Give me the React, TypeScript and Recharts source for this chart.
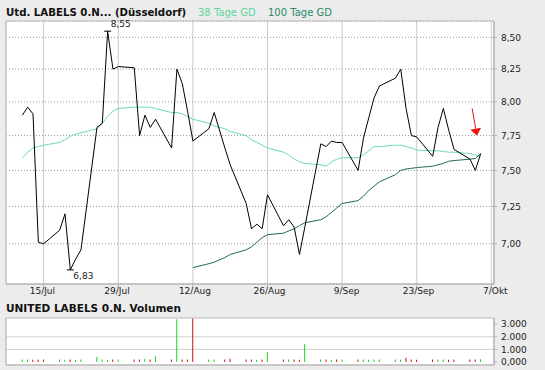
import {
  Bar,
  CartesianGrid,
  Cell,
  ComposedChart,
  Line,
  ReferenceArea,
  ReferenceDot,
  ReferenceLine,
  XAxis,
  YAxis,
} from "recharts";

// trading days (17 Aug without turnover)
const dates = [
  "2011-07-11", "2011-07-12", "2011-07-13", "2011-07-14", "2011-07-15",
  "2011-07-18", "2011-07-19", "2011-07-20", "2011-07-21", "2011-07-22",
  "2011-07-25", "2011-07-26", "2011-07-27", "2011-07-28", "2011-07-29",
  "2011-08-01", "2011-08-02", "2011-08-03", "2011-08-04", "2011-08-05",
  "2011-08-08", "2011-08-09", "2011-08-10", "2011-08-11", "2011-08-12",
  "2011-08-15", "2011-08-16", "2011-08-18", "2011-08-19",
  "2011-08-22", "2011-08-23", "2011-08-24", "2011-08-25", "2011-08-26",
  "2011-08-29", "2011-08-30", "2011-08-31", "2011-09-01", "2011-09-02",
  "2011-09-05", "2011-09-06", "2011-09-07", "2011-09-08", "2011-09-09",
  "2011-09-12", "2011-09-13", "2011-09-14", "2011-09-15", "2011-09-16",
  "2011-09-19", "2011-09-20", "2011-09-21", "2011-09-22", "2011-09-23",
  "2011-09-26", "2011-09-27", "2011-09-28", "2011-09-29", "2011-09-30",
  "2011-10-03", "2011-10-04", "2011-10-05",
];

const closes = [
  7.9, 7.96, 7.91, 7.01, 7.0,
  7.09, 7.2, 6.83, 6.9, 6.96,
  7.81, 7.84, 8.55, 8.25, 8.27,
  8.26, 7.75, 7.9, 7.81, 7.87,
  7.66, 8.25, 8.14, 7.93, 7.71,
  7.8, 7.92, 7.66, 7.54,
  7.27, 7.1, 7.13, 7.1, 7.33,
  7.12, 7.16, 7.11, 6.93, 7.11,
  7.69, 7.67, 7.71, 7.7, 7.7,
  7.5, 7.73, 7.88, 8.03, 8.12,
  8.18, 8.25, 7.95, 7.75, 7.74,
  7.6, 7.81, 7.95, 7.79, 7.65,
  7.58, 7.5, 7.62,
];

const ma38 = [
  7.59, 7.63, 7.66, 7.67, 7.68,
  7.7, 7.72, 7.745, 7.76, 7.77,
  7.8, 7.84, 7.89, 7.93, 7.95,
  7.96, 7.96, 7.96, 7.96, 7.95,
  7.92, 7.92, 7.91, 7.89, 7.87,
  7.84, 7.82, 7.8, 7.78,
  7.75, 7.72, 7.7, 7.68, 7.66,
  7.63, 7.61, 7.58, 7.56, 7.55,
  7.54, 7.53, 7.56, 7.58, 7.59,
  7.59, 7.61, 7.64, 7.67, 7.67,
  7.68, 7.68, 7.67, 7.66, 7.645,
  7.64, 7.64, 7.635, 7.63, 7.63,
  7.62, 7.61, 7.595,
];

// 100 Tage GD starts on 12 Aug
const ma100Start = "2011-08-12";
const ma100 = [
  6.845, 6.87, 6.88, 6.91, 6.93,
  6.96, 6.98, 7.01, 7.04, 7.06,
  7.07, 7.085, 7.1, 7.12, 7.14,
  7.16, 7.18, 7.21, 7.24, 7.27,
  7.29, 7.32, 7.36, 7.39, 7.42,
  7.47, 7.5, 7.51, 7.515, 7.52,
  7.53, 7.54, 7.55, 7.565, 7.57,
  7.58, 7.585, 7.62,
];

const volumes = [
  200, 190, 180, 200, 190,
  200, 180, 190, 180, 200,
  420, 190, 180, 200, 190,
  190, 200, 250, 190, 450,
  190, 3400, 190, 200, 3450,
  190, 200, 190, 250,
  190, 200, 180, 190, 780,
  190, 200, 190, 180, 1430,
  190, 200, 180, 190, 200,
  190, 200, 180, 190, 200,
  190, 200, 340, 190, 180,
  200, 190, 200, 180, 190,
  200, 190, 220,
];

const tickDates = ["2011-07-15", "2011-07-29", "2011-08-12", "2011-08-26", "2011-09-09", "2011-09-23", "2011-10-07"];
const tickLabels = ["15/Jul", "29/Jul", "12/Aug", "26/Aug", "9/Sep", "23/Sep", "7/Okt"];
const priceTicks = [7, 7.25, 7.5, 7.75, 8, 8.25, 8.5];
const volumeTicks = [0, 1000, 2000, 3000];
const volumeTickLabels = ["0,000", "1.000", "2.000", "3.000"];

const FONT = "DejaVu Sans";
const C38 = "#6cdcae";
const C100 = "#1f6e50";
const UP = "#22d122";
const DOWN = "#c81414";

const toDay = (s: string) =>
  Date.UTC(+s.slice(0, 4), +s.slice(5, 7) - 1, +s.slice(8, 10)) / 86400000;

const anchor = toDay(tickDates[0]);
const X_DOMAIN: [number, number] = [anchor - 7.07, anchor + 84.5];
const Y_DOMAIN: [number, number] = [6.74, 8.632];
const V_DOMAIN: [number, number] = [-238, 3492];
const tickDays = tickDates.map(toDay);

const ma100Offset = dates.indexOf(ma100Start);
const rows = dates.map((d, i) => ({
  day: toDay(d),
  close: closes[i],
  ma38: ma38[i],
  ma100: i >= ma100Offset ? ma100[i - ma100Offset] : null,
  volume: volumes[i],
  up: i === 0 || closes[i] >= closes[i - 1],
}));

const maxIdx = closes.indexOf(Math.max(...closes));
const minIdx = closes.indexOf(Math.min(...closes));
const fmt = (v: number) => v.toFixed(2).replace(".", ",");

const DateTick = ({ x, y, payload }: any) => {
  const i = tickDays.indexOf(payload.value);
  const [d, m] = (tickLabels[i] ?? "").split("/");
  const common = { y, dy: 4, fontSize: 9, fontFamily: FONT, fill: "#222" };
  return (
    <g>
      <text x={x + 0.5} textAnchor="end" {...common}>{d}/</text>
      <text x={x + 0.5} textAnchor="start" {...common}>{m}</text>
    </g>
  );
};

const Extreme = ({ cx, cy, text, above }: any) => (
  <g>
    <line x1={cx - 3.5} x2={cx + 3.5} y1={cy} y2={cy} stroke="#000" />
    <text
      x={cx + 3}
      y={above ? cy - 4 : cy + 9.5}
      fontSize={9}
      fontFamily={FONT}
      fill="#222"
    >
      {text}
    </text>
  </g>
);

const Arrow = ({ x1, y1, x2, y2 }: any) => {
  const a = Math.atan2(y2 - y1, x2 - x1);
  const bx = x2 - 7 * Math.cos(a);
  const by = y2 - 7 * Math.sin(a);
  const px = -Math.sin(a) * 5.5;
  const py = Math.cos(a) * 5.5;
  return (
    <g>
      <line x1={x1} y1={y1} x2={bx} y2={by} stroke="#dd1111" />
      <polygon
        points={`${x2},${y2} ${bx + px},${by + py} ${bx - px},${by - py}`}
        fill="#ee1111"
      />
    </g>
  );
};

const PriceChart = () => (
  <ComposedChart
    width={545}
    height={300}
    data={rows}
    margin={{ top: 21, right: 0, bottom: 0, left: 6 }}
  >
    <CartesianGrid horizontal={false} stroke="#c9c9c9" fill="#fff" />
    <CartesianGrid vertical={false} stroke="#9a9a9a" strokeDasharray="1 2" />
    <ReferenceArea
      x1={X_DOMAIN[0]}
      x2={X_DOMAIN[1]}
      y1={Y_DOMAIN[0]}
      y2={Y_DOMAIN[1]}
      fill="none"
      stroke="#bdbdbd"
      ifOverflow="visible"
    />
    <XAxis
      dataKey="day"
      type="number"
      domain={X_DOMAIN}
      allowDataOverflow
      ticks={tickDays}
      interval={0}
      height={16}
      tickSize={4}
      tickMargin={2}
      stroke="#b5b5b5"
      tick={<DateTick />}
    />
    <YAxis
      orientation="right"
      scale="log"
      domain={Y_DOMAIN}
      allowDataOverflow
      ticks={priceTicks}
      interval={0}
      width={51}
      tickSize={3}
      tickMargin={4}
      stroke="#b5b5b5"
      tickFormatter={fmt}
      tick={{ fontSize: 9, fontFamily: FONT, fill: "#222" }}
    />
    <Line dataKey="ma38" stroke={C38} dot={false} strokeWidth={1} isAnimationActive={false} />
    <Line dataKey="ma100" stroke={C100} dot={false} strokeWidth={1} isAnimationActive={false} />
    <Line dataKey="close" stroke="#000" dot={false} strokeWidth={1} isAnimationActive={false} />
    <ReferenceDot
      x={rows[maxIdx].day}
      y={closes[maxIdx]}
      ifOverflow="visible"
      shape={(p: any) => <Extreme {...p} text={fmt(closes[maxIdx])} above />}
    />
    <ReferenceDot
      x={rows[minIdx].day}
      y={closes[minIdx]}
      ifOverflow="visible"
      shape={(p: any) => <Extreme {...p} text={fmt(closes[minIdx])} />}
    />
    <ReferenceLine
      segment={[
        { x: anchor + 80.4, y: 7.95 },
        { x: anchor + 81.3, y: 7.75 },
      ]}
      ifOverflow="visible"
      shape={(p: any) => <Arrow {...p} />}
    />
  </ComposedChart>
);

const VolumeChart = () => (
  <ComposedChart
    width={545}
    height={70}
    data={rows}
    margin={{ top: 18, right: 0, bottom: 0, left: 6 }}
  >
    <CartesianGrid horizontal={false} stroke="#c9c9c9" fill="#fff" />
    <CartesianGrid vertical={false} horizontalValues={[1000, 2000]} stroke="#d0d0d0" />
    <ReferenceArea
      x1={X_DOMAIN[0]}
      x2={X_DOMAIN[1]}
      y1={V_DOMAIN[0]}
      y2={V_DOMAIN[1]}
      fill="none"
      stroke="#bdbdbd"
      ifOverflow="visible"
    />
    <XAxis
      dataKey="day"
      type="number"
      domain={X_DOMAIN}
      allowDataOverflow
      ticks={tickDays}
      interval={0}
      height={5}
      tick={false}
      tickLine={false}
      stroke="#b5b5b5"
    />
    <YAxis
      orientation="right"
      domain={V_DOMAIN}
      allowDataOverflow
      ticks={volumeTicks}
      interval={0}
      width={51}
      tickSize={3}
      tickMargin={4}
      stroke="#b5b5b5"
      tickFormatter={(v: number) => volumeTickLabels[volumeTicks.indexOf(v)]}
      tick={{ fontSize: 9, fontFamily: FONT, fill: "#222" }}
    />
    <Bar dataKey="volume" barSize={1} isAnimationActive={false}>
      {rows.map((r, i) => (
        <Cell key={i} fill={r.up ? UP : DOWN} />
      ))}
    </Bar>
  </ComposedChart>
);

export default function App() {
  return (
    <div
      style={{
        position: "absolute",
        left: 0,
        top: 0,
        width: 545,
        height: 370,
        background: "#ececec",
        overflow: "hidden",
      }}
    >
      <div style={{ position: "absolute", left: 0, top: 0 }}>
        <PriceChart />
      </div>
      <div style={{ position: "absolute", left: 0, top: 300 }}>
        <VolumeChart />
      </div>
      <svg
        width={545}
        height={370}
        style={{ position: "absolute", left: 0, top: 0, pointerEvents: "none" }}
      >
        <text x={6} y={16} fontSize={10.2} fontWeight="bold" fontFamily={FONT} fill="#111">
          Utd. LABELS 0.N... (Düsseldorf)
        </text>
        <text x={198} y={16} fontSize={10} fontFamily={FONT} fill="#5cd69c">
          38 Tage GD
        </text>
        <text x={268} y={16} fontSize={10} fontFamily={FONT} fill="#2b8a68">
          100 Tage GD
        </text>
        <text x={6} y={312} fontSize={10.5} fontWeight="bold" fontFamily={FONT} fill="#111">
          UNITED LABELS 0.N. Volumen
        </text>
      </svg>
    </div>
  );
}
